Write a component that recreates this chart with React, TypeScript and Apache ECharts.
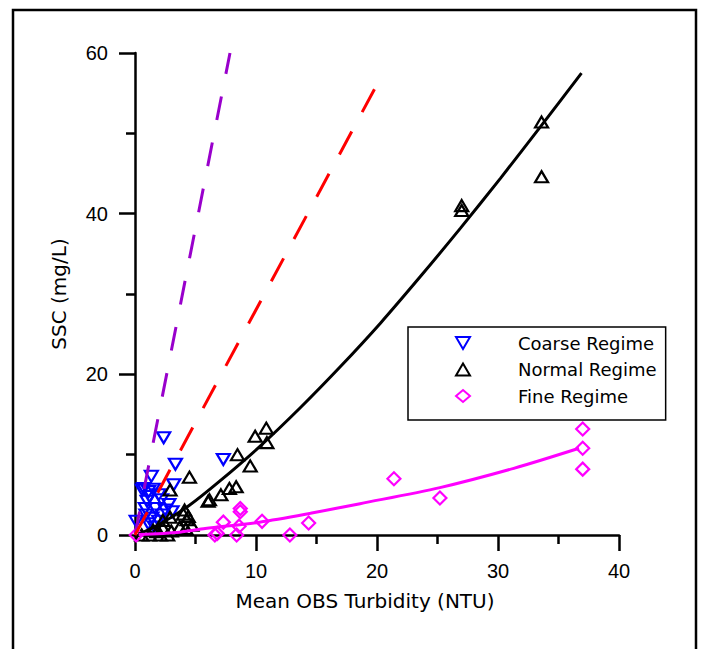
import React, { useEffect, useRef } from "react";
import * as echarts from "echarts";

// Coarse regime observations [turbidity NTU, SSC mg/L]
const coarseRegime: [number, number][] = [
  [2.37, 12.1], [3.34, 8.8], [3.2, 6.25], [1.35, 7.3], [0.72, 5.8], [1.13, 5.4],
  [1.96, 5.0], [0.85, 3.3], [1.68, 3.3], [2.5, 3.1], [2.23, 2.5], [3.06, 2.9],
  [1.4, 2.1], [0.1, 1.7], [1.96, 1.7], [1.0, 4.2], [2.2, 4.4], [7.3, 9.4],
  [0.6, 5.6], [1.5, 5.7], [1.2, 4.8], [0.9, 2.5], [1.6, 1.0], [1.1, 1.4], [2.8, 3.8],
];

// Normal regime observations
const normalRegime: [number, number][] = [
  [33.6, 51.4], [33.6, 44.6], [27.0, 41.0], [27.0, 40.4], [10.85, 13.3], [9.93, 12.3],
  [10.9, 11.5], [8.47, 10.0], [9.52, 8.6], [4.5, 7.2], [8.36, 6.0], [7.8, 5.8],
  [7.1, 5.0], [6.15, 4.4], [6.04, 4.2], [2.9, 5.6], [4.1, 3.1], [4.3, 1.9],
  [3.7, 1.0], [4.7, 1.2], [2.1, 0.0], [2.7, 0.0], [1.2, 0.0], [0.55, 0.0],
  [2.3, 0.9], [1.8, 0.4], [4.0, 2.6], [4.4, 2.3], [4.2, 0.8], [2.3, 1.8],
  [2.9, 2.2], [1.5, 0.6], [3.0, 0.5],
];

// Fine regime observations
const fineRegime: [number, number][] = [
  [37.0, 13.2], [37.0, 10.8], [37.0, 8.2], [21.4, 7.0], [25.2, 4.6], [14.35, 1.5],
  [12.8, 0.0], [10.5, 1.7], [8.7, 3.3], [8.7, 2.9], [7.3, 1.6], [8.6, 1.1],
  [8.4, 0.0], [6.6, 0.0], [6.8, 0.2], [0.1, 0.0],
];

// Dashed reference lines
const purpleLine: [number, number][] = [[0, 0], [7.85, 60]];
const redLine: [number, number][] = [[0, 0], [19.9, 55.8]];

// Fitted curves
const normalFit: [number, number][] = [
  [0.3, 0.1], [2, 1.3], [4.5, 3.7], [7, 6.7], [10.3, 11.0], [13.7, 15.9], [17, 21.0],
  [20.3, 26.4], [23.6, 32.2], [26.9, 38.2], [30.2, 44.4], [33.5, 50.8], [36.9, 57.5],
];
const fineFit: [number, number][] = [
  [0.3, 0.05], [3.7, 0.35], [5.8, 0.8], [10.3, 1.6], [14.5, 2.7], [18.6, 3.9],
  [25.2, 5.9], [31.3, 8.3], [36.7, 10.8],
];

const seriesNames = ["Coarse Regime", "Normal Regime", "Fine Regime"];
const xTitle = "Mean OBS Turbidity (NTU)";
const yTitle = "SSC (mg/L)";

export default function App() {
  const ref = useRef<HTMLDivElement>(null);
  useEffect(() => {
    document.body.style.margin = "0";
    const chart = echarts.init(ref.current!, undefined, { renderer: "svg" });
    const axisCommon = {
      type: "value" as const,
      axisLine: { show: true, lineStyle: { color: "#000", width: 2.5 } },
      axisTick: { show: true, inside: false, length: 16, lineStyle: { color: "#000", width: 2.5 } },
      minorTick: { show: true, splitNumber: 2, length: 9, lineStyle: { color: "#000", width: 2.5 } },
      splitLine: { show: false },
      minorSplitLine: { show: false },
      nameLocation: "middle" as const,
    };
    const hollow = (c: string) => ({ color: "transparent", borderColor: c, borderWidth: 2.2, opacity: 1 });
    chart.setOption({
      animation: false,
      backgroundColor: "#fff",
      grid: { left: 135, top: 53, width: 484, height: 482 },
      graphic: [
        {
          type: "rect",
          shape: { x: 13, y: 10, width: 683, height: 700 },
          style: { fill: "none", stroke: "#000", lineWidth: 2.5 },
          silent: true,
        },
      ],
      legend: {
        data: [
          { name: seriesNames[0], icon: "path://M0,0L14,0L7,12Z" },
          { name: seriesNames[1] },
          { name: seriesNames[2] },
        ],
        orient: "vertical",
        left: 408,
        top: 327,
        padding: [7, 9, 15, 47],
        itemGap: 8.5,
        itemWidth: 14,
        itemHeight: 12,
        borderColor: "#000",
        borderWidth: 1.5,
        textStyle: { fontFamily: "DejaVu Sans", fontSize: 18, color: "#000", padding: [0, 0, 0, 43] },
      },
      xAxis: {
        ...axisCommon,
        min: 0,
        max: 40,
        interval: 10,
        name: xTitle,
        nameGap: 56,
        nameTextStyle: { fontFamily: "DejaVu Sans", fontSize: 20, color: "#000", padding: [0, 24, 0, 0] },
        axisLabel: { fontFamily: "Liberation Sans", fontSize: 20, color: "#000", margin: 26 },
      },
      yAxis: {
        ...axisCommon,
        min: 0,
        max: 60,
        interval: 20,
        name: yTitle,
        nameGap: 66,
        nameRotate: 90,
        nameTextStyle: { fontFamily: "DejaVu Sans", fontSize: 20, color: "#000" },
        axisLabel: { fontFamily: "Liberation Sans", fontSize: 20, color: "#000", margin: 27 },
      },
      series: [
        {
          name: seriesNames[0],
          type: "scatter",
          data: coarseRegime,
          symbol: "triangle",
          symbolRotate: 180,
          symbolSize: [13, 11],
          itemStyle: hollow("#0000ff"),
        },
        {
          name: seriesNames[1],
          type: "scatter",
          data: normalRegime,
          symbol: "triangle",
          symbolSize: [13, 11],
          itemStyle: hollow("#000000"),
        },
        {
          name: seriesNames[2],
          type: "scatter",
          data: fineRegime,
          symbol: "diamond",
          symbolSize: 13,
          itemStyle: hollow("#ff00ff"),
        },
        {
          type: "line",
          data: purpleLine,
          showSymbol: false,
          lineStyle: { color: "#9900cc", width: 3, type: [24, 23] },
          silent: true,
        },
        {
          type: "line",
          data: redLine,
          showSymbol: false,
          lineStyle: { color: "#ff0000", width: 3, type: [26, 22] },
          silent: true,
        },
        {
          type: "line",
          data: normalFit,
          showSymbol: false,
          smooth: 0.3,
          lineStyle: { color: "#000000", width: 3 },
          silent: true,
        },
        {
          type: "line",
          data: fineFit,
          showSymbol: false,
          smooth: 0.3,
          lineStyle: { color: "#ff00ff", width: 3 },
          silent: true,
        },
      ],
    });
    return () => chart.dispose();
  }, []);
  return <div ref={ref} style={{ width: 704, height: 649 }} />;
}
